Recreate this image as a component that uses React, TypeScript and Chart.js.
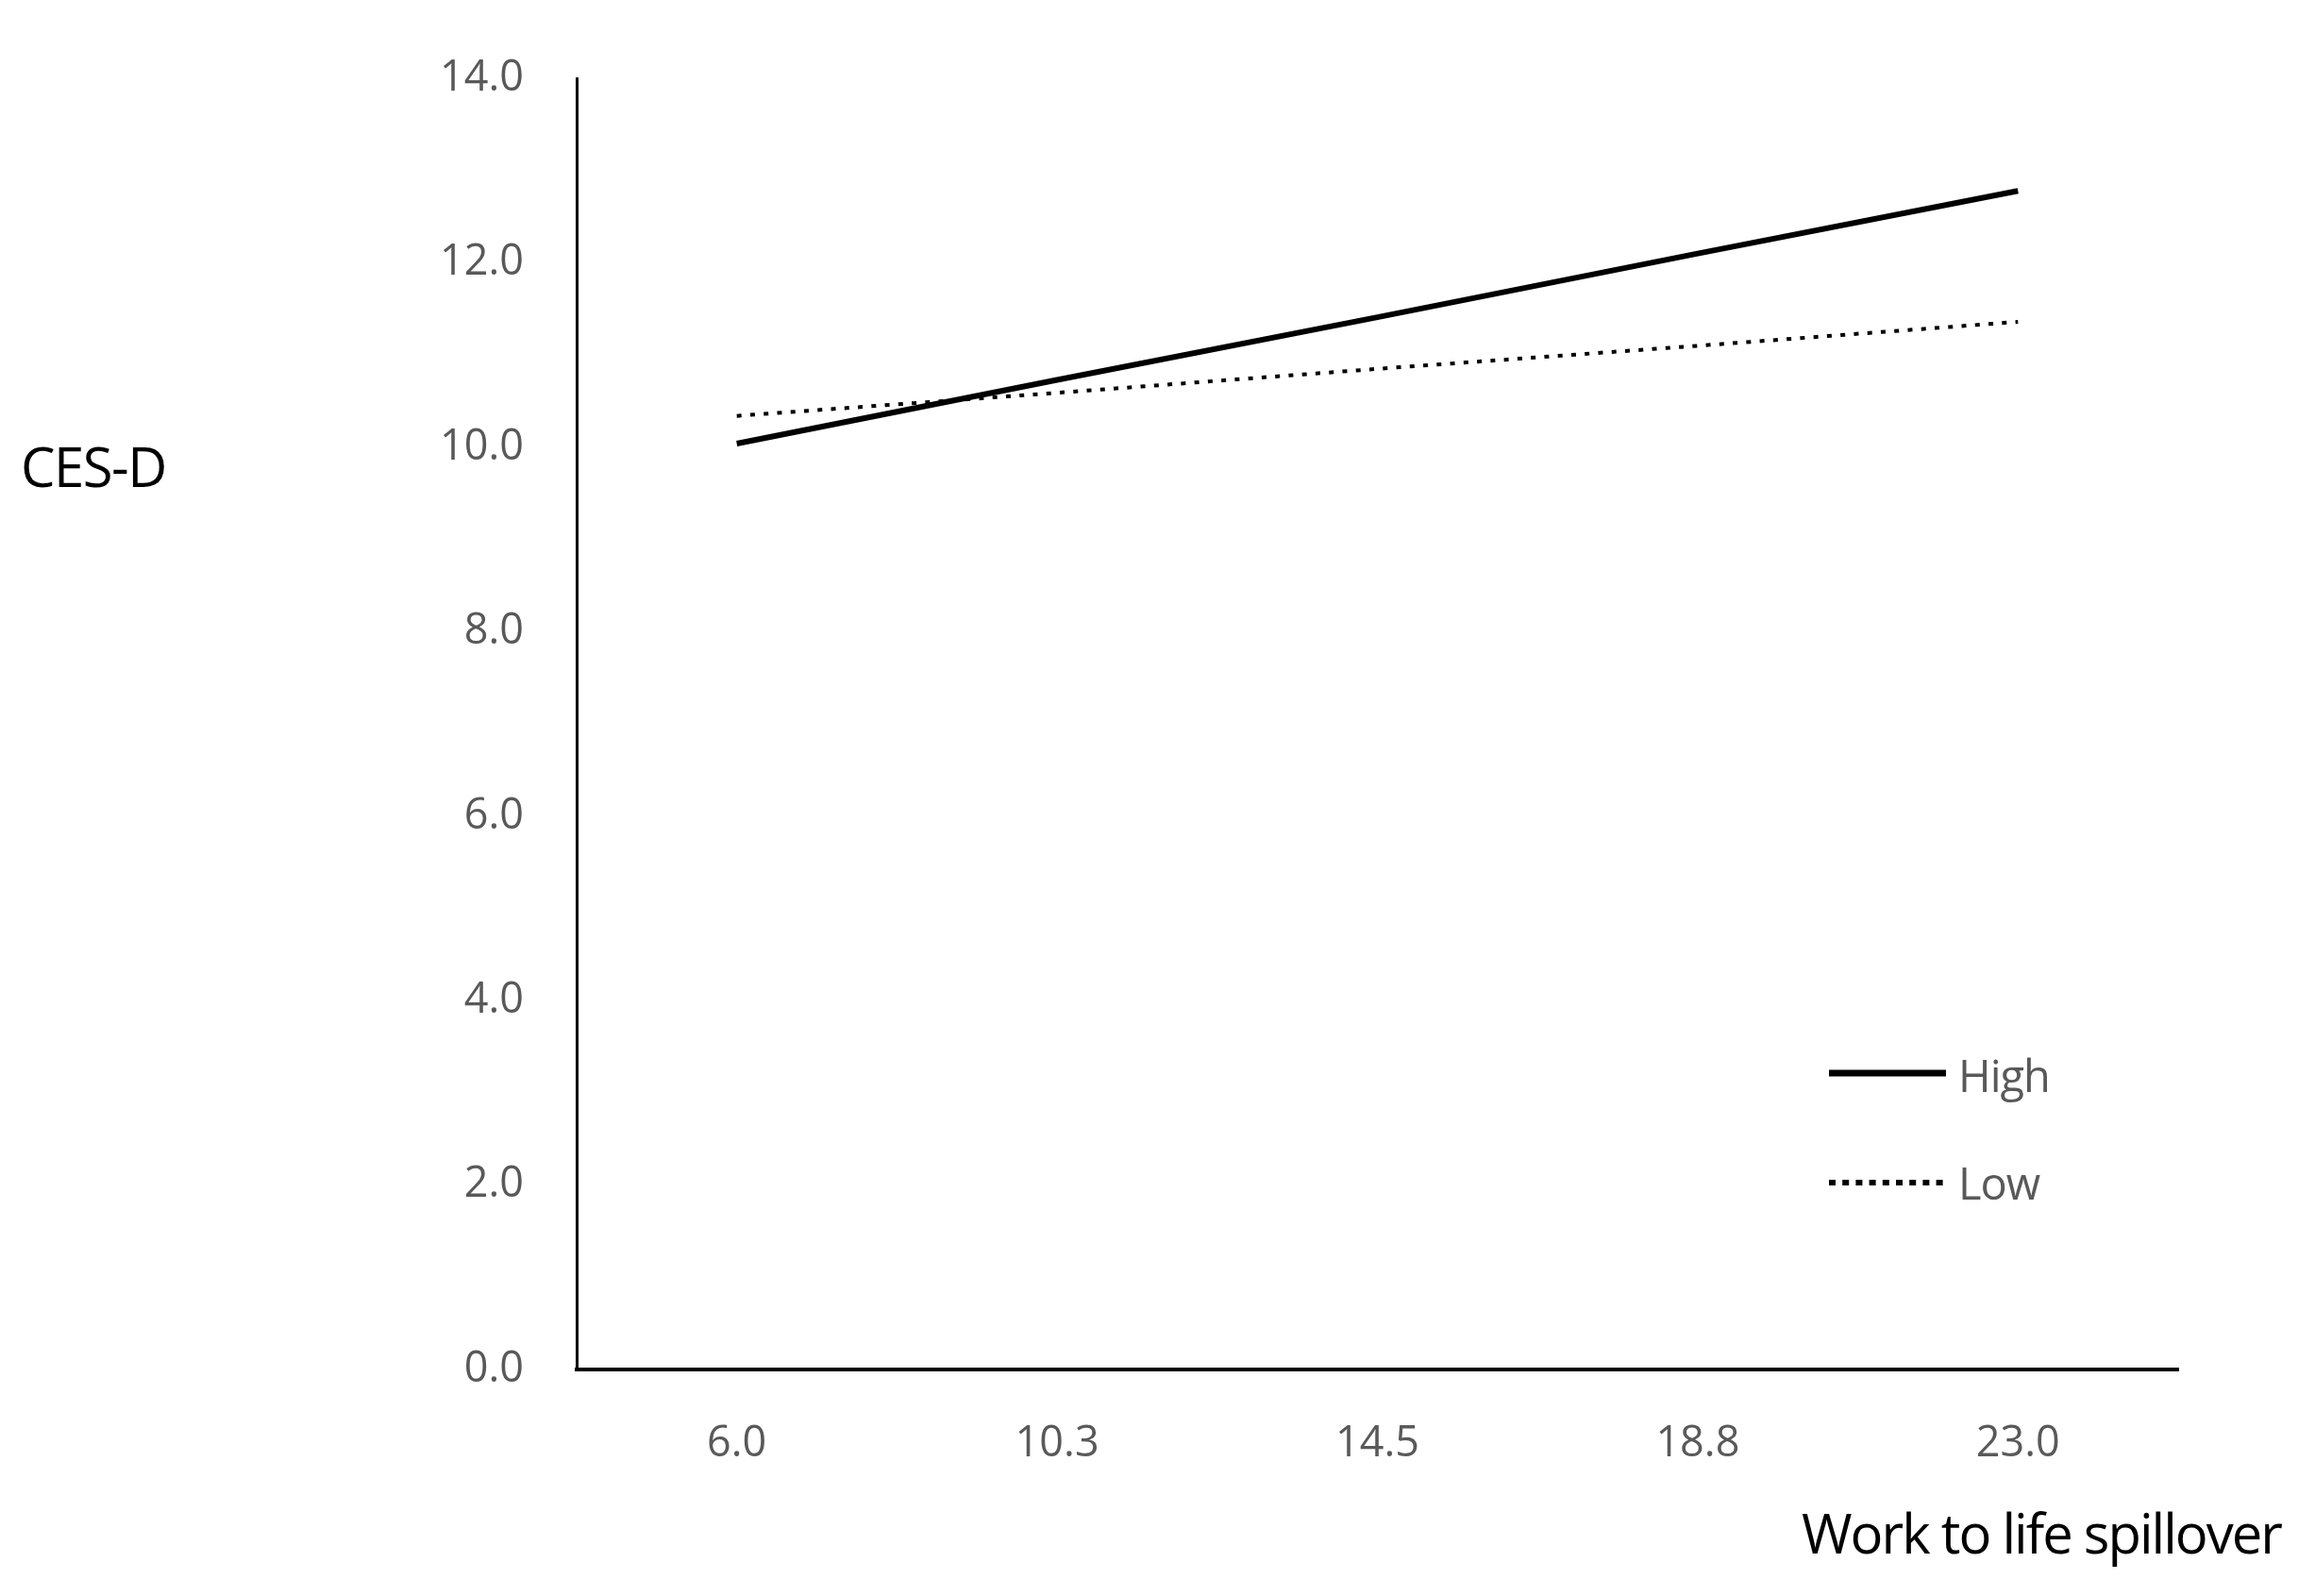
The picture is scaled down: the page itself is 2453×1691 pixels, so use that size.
import React, { useEffect, useRef } from 'react';
import { Chart, registerables } from 'chart.js';

Chart.register(...registerables);

// ---- data ----
const categories = ['6.0', '10.3', '14.5', '18.8', '23.0'];
const highValues = [10.04, 10.73, 11.41, 12.1, 12.78];
const lowValues = [10.34, 10.59, 10.85, 11.1, 11.36];
const seriesNames = ['High', 'Low'];
const yMin = 0;
const yMax = 14;
const yStep = 2;
const yTitle = 'CES-D';
const xTitle = 'Work to life spillover';

const FONT = '"Open Sans", "Noto Sans", sans-serif';
const W = 2453;
const H = 1691;

const overlayPlugin = {
  id: 'overlay',
  afterDraw(chart: any) {
    const ctx = chart.ctx as CanvasRenderingContext2D;
    const area = chart.chartArea;
    ctx.save();
    // axis titles
    ctx.fillStyle = '#000000';
    ctx.font = `58px ${FONT}`;
    ctx.textBaseline = 'alphabetic';
    (ctx as any).letterSpacing = '-1.5px';
    ctx.textAlign = 'left';
    ctx.fillText(yTitle, 22, 516);
    (ctx as any).letterSpacing = '-2px';
    ctx.textAlign = 'right';
    ctx.fillText(xTitle, 2417, 1646);
    (ctx as any).letterSpacing = '0px';

    // legend
    const legendX0 = area.right - 370;
    const legendX1 = area.right - 246;
    const textX = area.right - 233;
    const rows = [
      { lineY: 1137, baseY: 1157, width: 7, dash: [] as number[] },
      { lineY: 1253, baseY: 1271, width: 6, dash: [7, 7.2] },
    ];
    chart.data.datasets.forEach((ds: any, i: number) => {
      const r = rows[i];
      ctx.beginPath();
      ctx.setLineDash(r.dash);
      ctx.lineWidth = r.width;
      ctx.strokeStyle = ds.borderColor;
      ctx.lineCap = 'butt';
      ctx.moveTo(legendX0, r.lineY);
      ctx.lineTo(legendX1, r.lineY);
      ctx.stroke();
      ctx.setLineDash([]);
      ctx.font = `47px ${FONT}`;
      (ctx as any).letterSpacing = '-1px';
      ctx.fillStyle = '#595959';
      ctx.textAlign = 'left';
      ctx.fillText(ds.label, textX, r.baseY);
      (ctx as any).letterSpacing = '0px';
    });
    ctx.restore();
  },
};

export default function App() {
  const ref = useRef<HTMLCanvasElement | null>(null);

  useEffect(() => {
    document.body.style.margin = '0';
    const canvas = ref.current;
    if (!canvas) return;
    const chart = new Chart(canvas, {
      type: 'line',
      data: {
        labels: categories,
        datasets: [
          {
            label: seriesNames[0],
            data: highValues,
            borderColor: '#000000',
            backgroundColor: '#000000',
            borderWidth: 6,
            pointRadius: 0,
            tension: 0,
            fill: false,
          },
          {
            label: seriesNames[1],
            data: lowValues,
            borderColor: '#000000',
            backgroundColor: '#000000',
            borderWidth: 4,
            borderDash: [5, 9.3],
            borderCapStyle: 'butt',
            pointRadius: 0,
            tension: 0,
            fill: false,
          },
        ],
      },
      options: {
        responsive: false,
        animation: false,
        devicePixelRatio: 1,
        layout: { padding: { left: 0, right: W - 2308, top: 78, bottom: 0 } },
        plugins: {
          legend: { display: false },
          tooltip: { enabled: false },
          title: { display: false },
        },
        scales: {
          x: {
            type: 'category',
            offset: true,
            grid: { display: false, drawTicks: false },
            border: { display: true, color: '#000000', width: 4 },
            ticks: {
              color: '#595959',
              font: { family: FONT, size: 45 },
              padding: 52,
              maxRotation: 0,
            },
            afterFit: (scale: any) => {
              scale.height = H - 1451;
            },
          },
          y: {
            min: yMin,
            max: yMax,
            grid: { display: false, drawTicks: false },
            border: { display: true, color: '#000000', width: 3 },
            ticks: {
              stepSize: yStep,
              color: '#595959',
              font: { family: FONT, size: 45 },
              padding: 56,
              callback: (v: any) => Number(v).toFixed(1),
            },
            afterFit: (scale: any) => {
              scale.width = 611;
            },
          },
        },
      },
      plugins: [overlayPlugin],
    });
    return () => chart.destroy();
  }, []);

  return (
    <canvas
      ref={ref}
      width={W}
      height={H}
      style={{ display: 'block', width: W, height: H, background: '#ffffff' }}
    />
  );
}
